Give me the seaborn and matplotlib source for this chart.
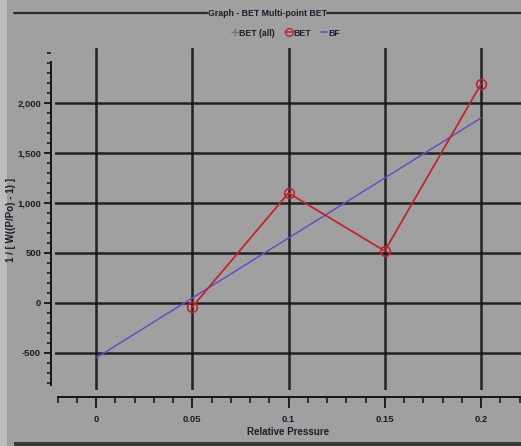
import matplotlib
matplotlib.use("Agg")
import matplotlib.pyplot as plt
import seaborn as sns
import pandas as pd
from matplotlib.lines import Line2D
from matplotlib.patches import Rectangle
from matplotlib.ticker import MultipleLocator, FuncFormatter

# Data
rel_pressure = [0.05, 0.10, 0.15, 0.20]
bet_values = [-40, 1100, 520, 2190]
bf_x = [0.0, 0.2]
bf_y = [-550, 1850]
x_ticks = [0, 0.05, 0.1, 0.15, 0.2]
x_tick_labels = ["0", "0.05", "0.1", "0.15", "0.2"]
y_ticks = [-500, 0, 500, 1000, 1500, 2000]

sns.set_theme(style="white")
plt.rcParams['font.family'] = ['Liberation Sans Narrow', 'Liberation Sans', 'DejaVu Sans']

W, H = 521, 446
BG = "#a0a0a0"
TXT = "#1c1c2a"
RED = "#c0262a"
PURPLE = "#6a4cc4"
GREYC = "#5f8080"

fig = plt.figure(figsize=(W / 100, H / 100), dpi=100, facecolor=BG)
fig.patches.append(Rectangle((0, 0), 7 / W, 1, transform=fig.transFigure,
                             facecolor="#bdbdbd", edgecolor="none", zorder=-5))
fig.patches.append(Rectangle((14 / W, 0), 1, 4 / H, transform=fig.transFigure,
                             facecolor="#3a3a3a", edgecolor="none", zorder=-5))

left, right, top, bottom = 55, 521, 48, 390
ax = fig.add_axes([left / W, 1 - bottom / H, (right - left) / W, (bottom - top) / H])
ax.set_facecolor(BG)

df_bet = pd.DataFrame({"x": rel_pressure, "y": bet_values})
df_bf = pd.DataFrame({"x": bf_x, "y": bf_y})

sns.lineplot(data=df_bf, x="x", y="y", ax=ax, color=PURPLE, linewidth=1.1, zorder=3)
sns.lineplot(data=df_bet, x="x", y="y", ax=ax, color=RED, linewidth=1.3, zorder=4,
             marker="o", markersize=7, markerfacecolor="none",
             markeredgecolor=RED, markeredgewidth=1.2)

px_per_x = 1925.0
px_per_y = 0.1
ax.set_xlim(0 + (left - 96) / px_per_x, 0.2 + (right - 481) / px_per_x)
ax.set_ylim(-500 - (bottom - 353) / px_per_y, 2000 + (103 - top) / px_per_y)

ax.set_xticks(x_ticks)
ax.set_xticklabels(x_tick_labels)
ax.set_yticks(y_ticks)
ax.yaxis.set_major_formatter(FuncFormatter(lambda v, p: f"{int(v):,}"))
ax.xaxis.set_minor_locator(MultipleLocator(0.01))
ax.yaxis.set_minor_locator(MultipleLocator(100))

ax.grid(True, which="major", color="#141414", linewidth=1.8, alpha=0.9)
ax.set_axisbelow(True)

for s in ["top", "right"]:
    ax.spines[s].set_visible(False)
ax.spines["left"].set_position(("outward", 3))
ax.spines["bottom"].set_position(("outward", 5))
ax.spines["left"].set_color("#141414")
ax.spines["bottom"].set_color("#141414")
ax.spines["left"].set_linewidth(1.4)
ax.spines["bottom"].set_linewidth(1.4)
ax.spines["left"].set_bounds(-820, 2410)
ax.spines["bottom"].set_bounds(-0.0197, 0.2205)

ax.tick_params(axis="both", which="both", direction="out", colors="#141414",
               labelcolor=TXT, labelsize=6.8)
ax.tick_params(axis="x", which="major", length=8, width=1.3, bottom=True, pad=5)
ax.tick_params(axis="x", which="minor", length=4, width=1.1, bottom=True)
ax.tick_params(axis="y", which="major", length=5, width=1.3, left=True, pad=2)
ax.tick_params(axis="y", which="minor", length=3, width=1.1, left=True)
for lab in ax.get_xticklabels() + ax.get_yticklabels():
    lab.set_fontweight("bold")

ax.set_xlabel("Relative Pressure", fontsize=7, fontweight="bold", color=TXT, labelpad=2)
ax.set_ylabel("1 / [ W((P/Po) - 1) ]", fontsize=7, fontweight="bold", color=TXT)
ax.yaxis.set_label_coords((16 - left) / (right - left), (bottom - 220) / (bottom - top))

# Title with side rules
fig.text(267 / W, 1 - 13 / H, "Graph - BET Multi-point BET", ha="center", va="center",
         fontsize=6.3, fontweight="bold", color=TXT)
fig.add_artist(Line2D([14 / W, 207 / W], [1 - 13 / H] * 2, color="#2a2a2a", lw=1.6))
fig.add_artist(Line2D([327 / W, 1.0], [1 - 13 / H] * 2, color="#2a2a2a", lw=1.6))

handles = [
    Line2D([], [], color=GREYC, marker="+", linestyle="none", markersize=6),
    Line2D([], [], color=RED, marker="o", markerfacecolor="none", markersize=5.5, lw=1.2),
    Line2D([], [], color=PURPLE, lw=1.2),
]
leg = fig.legend(handles, ["BET (all)", "BET", "BF"], loc="center",
                 bbox_to_anchor=(286 / W, 1 - 33 / H), ncol=3, frameon=False,
                 fontsize=6.3, handlelength=0.7, handletextpad=0.15, columnspacing=1.2)
for t in leg.get_texts():
    t.set_fontweight("bold")
    t.set_color(TXT)

fig.savefig("out.png", dpi=100, facecolor=BG)
